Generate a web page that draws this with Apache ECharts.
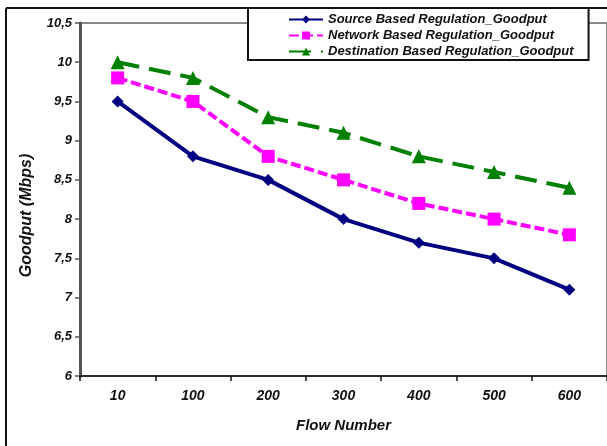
<!DOCTYPE html>
<html>
<head>
<meta charset="utf-8">
<script src="https://cdn.jsdelivr.net/npm/echarts@6/dist/echarts.min.js"></script>
<style>html,body{margin:0;padding:0;background:#fff;}#c{width:607px;height:446px;}</style>
</head>
<body>
<div id="c"></div>
<script>
var categories = ['10', '100', '200', '300', '400', '500', '600'];
var sourceGoodput = [9.5, 8.8, 8.5, 8.0, 7.7, 7.5, 7.1];
var networkGoodput = [9.8, 9.5, 8.8, 8.5, 8.2, 8.0, 7.8];
var destinationGoodput = [10.0, 9.8, 9.3, 9.1, 8.8, 8.6, 8.4];
var seriesNames = ['Source Based Regulation_Goodput', 'Network Based Regulation_Goodput', 'Destination Based Regulation_Goodput'];

var chart = echarts.init(document.getElementById('c'), null, {renderer: 'canvas'});
var fontBI = {fontFamily: 'Liberation Sans', fontWeight: 'bold', fontStyle: 'italic', color: '#111'};
chart.setOption({
  animation: false,
  backgroundColor: '#fff',
  grid: {left: 80, top: 23, width: 531, height: 353, show: true, borderColor: '#888', borderWidth: 2, backgroundColor: 'transparent'},
  legend: {
    orient: 'vertical', left: 248, top: 8,
    padding: [5, 15, 2, 40], itemGap: 3, itemWidth: 34, itemHeight: 10,
    backgroundColor: '#fff', borderColor: '#111', borderWidth: 2, borderRadius: 0,
    textStyle: Object.assign({fontSize: 13}, fontBI),
    data: seriesNames
  },
  xAxis: {
    type: 'category', data: categories, boundaryGap: true,
    name: 'Flow Number', nameLocation: 'middle', nameGap: 42,
    nameTextStyle: Object.assign({fontSize: 15}, fontBI),
    axisLine: {lineStyle: {color: '#111', width: 1.5}},
    axisTick: {show: true, length: 5, lineStyle: {color: '#111', width: 1.5}},
    axisLabel: Object.assign({fontSize: 14, margin: 13}, fontBI),
    splitLine: {show: false}
  },
  yAxis: {
    type: 'value', min: 6, max: 10.5, interval: 0.5,
    name: 'Goodput (Mbps)', nameLocation: 'middle', nameGap: 45,
    nameTextStyle: Object.assign({fontSize: 16, padding: [0, 32, 0, 0]}, fontBI),
    axisLine: {show: true, lineStyle: {color: '#555', width: 3}},
    axisTick: {show: true, length: 5, lineStyle: {color: '#555', width: 1.5}},
    axisLabel: Object.assign({fontSize: 13, margin: 8, formatter: function (v) { return String(v).replace('.', ','); }}, fontBI),
    splitLine: {show: false}
  },
  series: [
    {name: seriesNames[0], type: 'line', data: sourceGoodput, symbol: 'diamond', symbolSize: 12,
     itemStyle: {color: '#000080'}, lineStyle: {color: '#000080', width: 4, type: 'solid'}, z: 3},
    {name: seriesNames[1], type: 'line', data: networkGoodput, symbol: 'rect', symbolSize: 13,
     itemStyle: {color: '#FF00FF'}, lineStyle: {color: '#FF00FF', width: 4, type: [10, 4]}, z: 2},
    {name: seriesNames[2], type: 'line', data: destinationGoodput, symbol: 'triangle', symbolSize: 14,
     itemStyle: {color: '#008000'}, lineStyle: {color: '#008000', width: 4, type: [22, 10]}, z: 1}
  ],
  graphic: [
    {type: 'line', shape: {x1: 6, y1: 8, x2: 607, y2: 8}, style: {stroke: '#111', lineWidth: 2}, z: 100},
    {type: 'line', shape: {x1: 6, y1: 8, x2: 6, y2: 446}, style: {stroke: '#111', lineWidth: 2}, z: 100}
  ]
});
</script>
</body>
</html>
